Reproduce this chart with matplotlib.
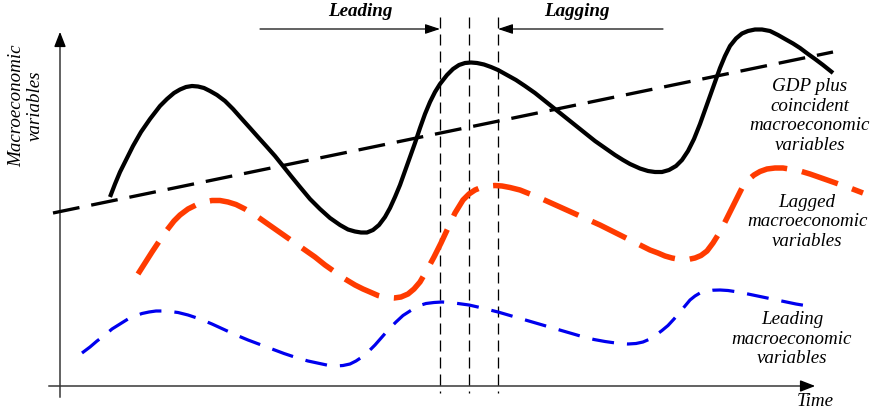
import matplotlib
matplotlib.use("Agg")
import matplotlib.pyplot as plt

plt.rcParams['lines.scale_dashes'] = False

# --- data (pixel coordinates; y grows downward) ---
gdp_x = [110, 115, 120, 127, 133, 141, 150, 160, 167, 174, 180, 186, 192, 198, 204, 210, 217, 225, 233, 241,
         250, 258, 267, 275, 283, 291, 300, 310, 320, 330, 340, 348, 355, 361, 367, 373, 379, 385, 390, 395,
         400, 405, 410, 415, 420, 425, 430, 435, 440, 447, 453, 459, 465, 471, 477, 484, 491, 498, 507, 516,
         525, 535, 545, 555, 565, 575, 585, 595, 605, 615, 623, 630, 640, 648, 655, 662, 669, 676, 682, 688,
         694, 700, 705, 710, 715, 720, 725, 730, 736, 742, 748, 755, 762, 770, 778, 785, 793, 800, 808, 815,
         823, 833]
gdp_y = [197, 184, 172, 158, 146, 132, 119, 106, 99, 93, 89.5, 87, 86, 86.5, 88, 91, 95, 101, 109, 118,
         128, 137, 147, 156, 166, 176, 187, 199, 209, 218, 225, 229.5, 231.5, 232.5, 232.5, 230, 225, 217, 208, 197,
         185, 171, 157, 143, 128, 114, 102, 92, 84, 75, 69, 65, 63, 62.5, 63, 64.5, 67, 70, 75, 80,
         86, 93, 101, 109, 117, 125, 133, 141, 148, 155, 160, 164, 168.5, 171, 172, 172, 170, 166, 160, 151,
         139, 124, 110, 96, 82, 68, 56, 46, 38.5, 33.5, 31, 29.5, 29.5, 31, 35, 39, 43.5, 48, 54, 59,
         65, 73]

trend_x = [53, 833]
trend_y = [213, 52]

lag_x = [138, 145, 152, 160, 167, 174, 180, 188, 196, 204, 212, 220, 228, 236, 245, 255, 265, 275, 285, 295,
         305, 315, 325, 335, 345, 355, 363, 370, 378, 386, 394, 401, 408, 414, 420, 427, 434, 441, 448, 455,
         463, 469, 475, 481, 488, 495, 502, 510, 520, 530, 540, 550, 560, 570, 580, 590, 600, 610, 620, 630,
         640, 650, 658, 665, 672, 680, 688, 695, 701, 707, 713, 718, 723, 728, 733, 738, 742, 748, 754, 760,
         767, 775, 783, 792, 800, 810, 820, 830, 840, 850, 863]
lag_y = [274, 263, 252, 240, 230, 221, 215, 209, 205, 202, 200.5, 200.5, 202, 204.5, 209, 215, 222, 229, 236, 243,
         250, 257, 265, 272, 279, 285, 289, 292, 295.5, 297.5, 298, 297, 294, 289, 282, 270, 257, 243, 228, 213,
         200, 194, 190, 187.5, 186, 185.5, 186, 187.5, 190, 194, 198, 202.5, 207, 211.5, 216, 220.5, 225, 230, 235, 240,
         245, 250, 253, 256, 258, 259.5, 259.5, 258, 255.5, 251, 243, 235, 226, 216, 206, 196, 188, 180, 175, 171.5,
         169, 168, 168, 169.5, 171, 174, 177.5, 181, 184.5, 188, 193]

lead_x = [82, 90, 97, 105, 112, 120, 128, 135, 142, 149, 156, 163, 170, 178, 188, 200, 212, 224, 236, 248,
          260, 272, 284, 296, 308, 315, 322, 329, 336, 343, 350, 356, 362, 368, 375, 382, 389, 396, 403, 410,
          418, 426, 434, 442, 450, 458, 469, 480, 490, 498, 510, 522, 534, 546, 558, 570, 582, 594, 605, 612,
          620, 628, 636, 643, 650, 656, 662, 668, 674, 680, 685, 690, 695, 700, 706, 713, 720, 728, 738, 748,
          760, 772, 784, 796, 808]
lead_y = [353, 347, 341, 335, 329, 324, 319, 316, 313.5, 312, 311, 311, 311.5, 312.5, 315, 319, 324, 329.5, 335, 340,
          344.5, 349, 353.5, 357.5, 361, 362.5, 364, 365.5, 366, 365.5, 364, 361, 357, 352, 345, 337, 329, 322, 315.5, 311,
          306, 303.5, 302.5, 302, 302.5, 303.5, 305, 307.5, 310, 312, 315.5, 319, 322.5, 326, 329.5, 333, 336.5, 339.5, 341.5, 342.5,
          343.5, 344, 343.5, 342, 339, 335, 330.5, 325.5, 319, 312, 306, 300, 296, 293, 291.2, 290.2, 290, 290.5, 292, 294,
          296.5, 299, 301.5, 304, 306]

phase_x = [440, 469, 498]
phase_labels = ["Leading", "Lagging"]
series_labels = ["GDP plus\ncoincident\nmacroeconomic\nvariables",
                 "Lagged\nmacroeconomic\nvariables",
                 "Leading\nmacroeconomic\nvariables"]
y_label = "Macroeconomic\nvariables"
x_label = "Time"

W, H = 874, 408
fig = plt.figure(figsize=(W / 100, H / 100), dpi=100)
ax = fig.add_axes([0, 0, 1, 1])
ax.set_xlim(0, W)
ax.set_ylim(H, 0)
ax.axis('off')

def px(v):
    return v * 0.72  # pixels -> points

serif = ['Liberation Serif', 'DejaVu Serif']
fs = px(19)
ls = 1.2

# axes with arrows
ax.plot([60, 60], [397, 40], color='#333333', lw=px(1.5))
ax.annotate('', xy=(60, 29), xytext=(60, 45),
            arrowprops=dict(arrowstyle='-|>,head_width=0.35,head_length=0.9', color='black', lw=px(1.5)))
ax.plot([49, 805], [386, 386], color='#333333', lw=px(1.5))
ax.annotate('', xy=(818, 386), xytext=(800, 386),
            arrowprops=dict(arrowstyle='-|>,head_width=0.35,head_length=0.9', color='black', lw=px(1.5)))

# vertical phase lines
for xv in phase_x:
    ax.plot([xv, xv], [17, 393], color='black', lw=px(1.3), dashes=(px(11), px(6)))

# Leading / Lagging arrows
ax.annotate('', xy=(440, 29), xytext=(260, 29),
            arrowprops=dict(arrowstyle='-|>,head_width=0.3,head_length=0.9', color='black', lw=px(1.2),
                            shrinkA=0, shrinkB=0))
ax.annotate('', xy=(498, 29), xytext=(663, 29),
            arrowprops=dict(arrowstyle='-|>,head_width=0.3,head_length=0.9', color='black', lw=px(1.2),
                            shrinkA=0, shrinkB=0))
ax.text(360, 11, phase_labels[0], ha='center', va='center', fontsize=fs, family=serif,
        style='italic', weight='bold')
ax.text(577, 11, phase_labels[1], ha='center', va='center', fontsize=fs, family=serif,
        style='italic', weight='bold')

# curves
ax.plot(trend_x, trend_y, color='black', lw=px(3.3), dashes=(px(27), px(12)), solid_capstyle='butt')
ax.plot(gdp_x, gdp_y, color='black', lw=px(4.2), solid_joinstyle='round', solid_capstyle='butt')
ax.plot(lag_x, lag_y, color='#FF3B00', lw=px(5.5), dashes=(px(38), px(15)), dash_joinstyle='round')
ax.plot(lead_x, lead_y, color='#0000EE', lw=px(3.2), dashes=(px(22), px(13)), dash_joinstyle='round')

# labels
ax.text(810, 116, series_labels[0], ha='center', va='center', fontsize=fs, family=serif,
        style='italic', linespacing=ls)
ax.text(807, 222, series_labels[1], ha='center', va='center', fontsize=fs, family=serif,
        style='italic', linespacing=ls)
ax.text(792, 339, series_labels[2], ha='center', va='center', fontsize=fs, family=serif,
        style='italic', linespacing=ls)
ax.text(26, 106, y_label, ha='center', va='center', fontsize=fs, family=serif,
        style='italic', rotation=90, linespacing=1.1)
ax.text(815, 401, x_label, ha='center', va='center', fontsize=fs, family=serif, style='italic')

fig.savefig('out.png', dpi=100)
